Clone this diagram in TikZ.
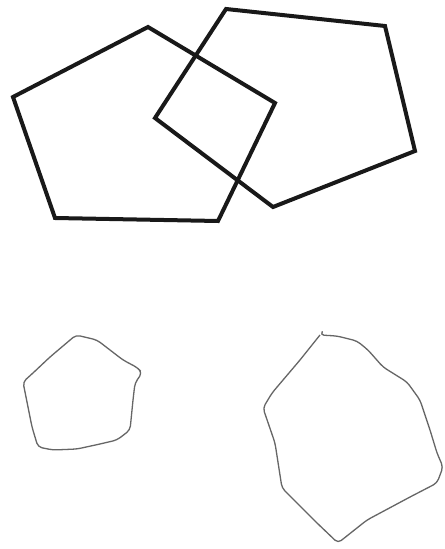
\documentclass[tikz,border=0pt]{standalone}
\begin{document}
\begin{tikzpicture}[x=0.5pt,y=-0.5pt,
  thick pent/.style={line width=2pt,line join=miter,draw=black!90},
  sketch/.style={line width=0.65pt,draw=black!60,line join=round,rounded corners=2pt}]
\useasboundingbox (0,0) rectangle (444,549);
\fill[white] (0,0) rectangle (444,549);
% left pentagon
\draw[thick pent] (148,27) -- (275,103) -- (218,221) -- (55,218) -- (13,97) -- cycle;
% right pentagon
\draw[thick pent] (226,9) -- (385,26) -- (415,151) -- (273,207) -- (155,118) -- cycle;
% small hand-drawn shape
\draw[sketch] (76,335) -- (97,340) -- (110,350) -- (123,360) -- (138,368) -- (142,373)
  -- (135,383) -- (133,400) -- (130,430) -- (117,440) -- (100,444) -- (77,449)
  -- (53,450) -- (38,447) -- (32,427) -- (23,382) -- (33,373) -- (50,357) -- cycle;
% large hand-drawn shape
\draw[sketch] (322,332) -- (320,335) -- (337,336) -- (357,341) -- (368,350) -- (383,367)
  -- (407,382) -- (420,400) -- (430,430) -- (437,453) -- (443,467) -- (437,483)
  -- (410,497) -- (367,520) -- (338,543) -- (317,523) -- (282,488) -- (275,443)
  -- (263,408) -- (272,393) -- (300,360) -- (320,335);
\end{tikzpicture}
\end{document}
